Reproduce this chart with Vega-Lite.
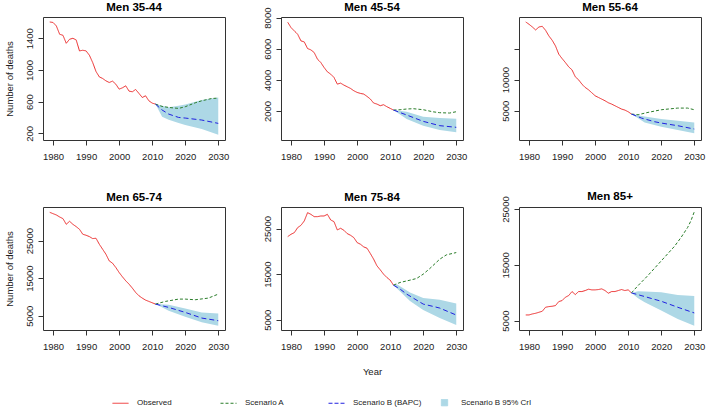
{
  "$schema": "https://vega.github.io/schema/vega-lite/v6.json",
  "padding": {"left": 3, "top": 1, "right": 2, "bottom": 1},
  "background": "white",
  "columns": 3,
  "spacing": {"row": 67, "column": 56},
  "bounds": "flush",
  "datasets": {
    "lines": [
      {"p":"Men 35-44","s":"Observed","x":1979,"y":1606},{"p":"Men 35-44","s":"Observed","x":1980,"y":1600},{"p":"Men 35-44","s":"Observed","x":1981,"y":1556},{"p":"Men 35-44","s":"Observed","x":1982,"y":1451},{"p":"Men 35-44","s":"Observed","x":1983,"y":1438},{"p":"Men 35-44","s":"Observed","x":1984,"y":1337},{"p":"Men 35-44","s":"Observed","x":1985,"y":1388},{"p":"Men 35-44","s":"Observed","x":1986,"y":1400},{"p":"Men 35-44","s":"Observed","x":1987,"y":1380},{"p":"Men 35-44","s":"Observed","x":1988,"y":1241},{"p":"Men 35-44","s":"Observed","x":1989,"y":1249},{"p":"Men 35-44","s":"Observed","x":1990,"y":1241},{"p":"Men 35-44","s":"Observed","x":1991,"y":1186},{"p":"Men 35-44","s":"Observed","x":1992,"y":1094},{"p":"Men 35-44","s":"Observed","x":1993,"y":981},{"p":"Men 35-44","s":"Observed","x":1994,"y":913},{"p":"Men 35-44","s":"Observed","x":1995,"y":893},{"p":"Men 35-44","s":"Observed","x":1996,"y":863},{"p":"Men 35-44","s":"Observed","x":1997,"y":842},{"p":"Men 35-44","s":"Observed","x":1998,"y":859},{"p":"Men 35-44","s":"Observed","x":1999,"y":821},{"p":"Men 35-44","s":"Observed","x":2000,"y":758},{"p":"Men 35-44","s":"Observed","x":2001,"y":775},{"p":"Men 35-44","s":"Observed","x":2002,"y":800},{"p":"Men 35-44","s":"Observed","x":2003,"y":733},{"p":"Men 35-44","s":"Observed","x":2004,"y":725},{"p":"Men 35-44","s":"Observed","x":2005,"y":754},{"p":"Men 35-44","s":"Observed","x":2006,"y":704},{"p":"Men 35-44","s":"Observed","x":2007,"y":653},{"p":"Men 35-44","s":"Observed","x":2008,"y":674},{"p":"Men 35-44","s":"Observed","x":2009,"y":611},{"p":"Men 35-44","s":"Observed","x":2010,"y":582},{"p":"Men 35-44","s":"Observed","x":2011,"y":569},
      {"p":"Men 35-44","s":"Scenario A","x":2011,"y":569},{"p":"Men 35-44","s":"Scenario A","x":2013,"y":540},{"p":"Men 35-44","s":"Scenario A","x":2015,"y":527},{"p":"Men 35-44","s":"Scenario A","x":2018,"y":515},{"p":"Men 35-44","s":"Scenario A","x":2020,"y":536},{"p":"Men 35-44","s":"Scenario A","x":2023,"y":585},{"p":"Men 35-44","s":"Scenario A","x":2025,"y":611},{"p":"Men 35-44","s":"Scenario A","x":2028,"y":640},{"p":"Men 35-44","s":"Scenario A","x":2030,"y":645},
      {"p":"Men 35-44","s":"Scenario B (BAPC)","x":2011,"y":569},{"p":"Men 35-44","s":"Scenario B (BAPC)","x":2013,"y":495},{"p":"Men 35-44","s":"Scenario B (BAPC)","x":2015,"y":443},{"p":"Men 35-44","s":"Scenario B (BAPC)","x":2018,"y":401},{"p":"Men 35-44","s":"Scenario B (BAPC)","x":2020,"y":393},{"p":"Men 35-44","s":"Scenario B (BAPC)","x":2025,"y":368},{"p":"Men 35-44","s":"Scenario B (BAPC)","x":2030,"y":326},

      {"p":"Men 45-54","s":"Observed","x":1979,"y":7700},{"p":"Men 45-54","s":"Observed","x":1980,"y":7359},{"p":"Men 45-54","s":"Observed","x":1981,"y":7145},{"p":"Men 45-54","s":"Observed","x":1982,"y":6932},{"p":"Men 45-54","s":"Observed","x":1983,"y":6505},{"p":"Men 45-54","s":"Observed","x":1984,"y":6441},{"p":"Men 45-54","s":"Observed","x":1985,"y":6014},{"p":"Men 45-54","s":"Observed","x":1986,"y":5928},{"p":"Men 45-54","s":"Observed","x":1987,"y":5758},{"p":"Men 45-54","s":"Observed","x":1988,"y":5331},{"p":"Men 45-54","s":"Observed","x":1989,"y":5117},{"p":"Men 45-54","s":"Observed","x":1990,"y":4797},{"p":"Men 45-54","s":"Observed","x":1991,"y":4519},{"p":"Men 45-54","s":"Observed","x":1992,"y":4370},{"p":"Men 45-54","s":"Observed","x":1993,"y":4156},{"p":"Men 45-54","s":"Observed","x":1994,"y":3729},{"p":"Men 45-54","s":"Observed","x":1995,"y":3793},{"p":"Men 45-54","s":"Observed","x":1996,"y":3665},{"p":"Men 45-54","s":"Observed","x":1997,"y":3559},{"p":"Men 45-54","s":"Observed","x":1998,"y":3452},{"p":"Men 45-54","s":"Observed","x":1999,"y":3302},{"p":"Men 45-54","s":"Observed","x":2000,"y":3196},{"p":"Men 45-54","s":"Observed","x":2001,"y":3132},{"p":"Men 45-54","s":"Observed","x":2002,"y":3089},{"p":"Men 45-54","s":"Observed","x":2003,"y":2939},{"p":"Men 45-54","s":"Observed","x":2004,"y":2769},{"p":"Men 45-54","s":"Observed","x":2005,"y":2512},{"p":"Men 45-54","s":"Observed","x":2006,"y":2448},{"p":"Men 45-54","s":"Observed","x":2007,"y":2342},{"p":"Men 45-54","s":"Observed","x":2008,"y":2406},{"p":"Men 45-54","s":"Observed","x":2009,"y":2278},{"p":"Men 45-54","s":"Observed","x":2010,"y":2171},{"p":"Men 45-54","s":"Observed","x":2011,"y":2064},
      {"p":"Men 45-54","s":"Scenario A","x":2011,"y":2064},{"p":"Men 45-54","s":"Scenario A","x":2013,"y":2085},{"p":"Men 45-54","s":"Scenario A","x":2015,"y":2130},{"p":"Men 45-54","s":"Scenario A","x":2017,"y":2150},{"p":"Men 45-54","s":"Scenario A","x":2020,"y":2085},{"p":"Men 45-54","s":"Scenario A","x":2023,"y":1950},{"p":"Men 45-54","s":"Scenario A","x":2025,"y":1893},{"p":"Men 45-54","s":"Scenario A","x":2028,"y":1872},{"p":"Men 45-54","s":"Scenario A","x":2030,"y":1957},
      {"p":"Men 45-54","s":"Scenario B (BAPC)","x":2011,"y":2064},{"p":"Men 45-54","s":"Scenario B (BAPC)","x":2015,"y":1744},{"p":"Men 45-54","s":"Scenario B (BAPC)","x":2020,"y":1338},{"p":"Men 45-54","s":"Scenario B (BAPC)","x":2025,"y":1061},{"p":"Men 45-54","s":"Scenario B (BAPC)","x":2030,"y":954},

      {"p":"Men 55-64","s":"Observed","x":1979,"y":19280},{"p":"Men 55-64","s":"Observed","x":1980,"y":18905},{"p":"Men 55-64","s":"Observed","x":1981,"y":18477},{"p":"Men 55-64","s":"Observed","x":1982,"y":17996},{"p":"Men 55-64","s":"Observed","x":1983,"y":18477},{"p":"Men 55-64","s":"Observed","x":1984,"y":18584},{"p":"Men 55-64","s":"Observed","x":1985,"y":17942},{"p":"Men 55-64","s":"Observed","x":1986,"y":17033},{"p":"Men 55-64","s":"Observed","x":1987,"y":16338},{"p":"Men 55-64","s":"Observed","x":1988,"y":15429},{"p":"Men 55-64","s":"Observed","x":1989,"y":14092},{"p":"Men 55-64","s":"Observed","x":1990,"y":13396},{"p":"Men 55-64","s":"Observed","x":1991,"y":12755},{"p":"Men 55-64","s":"Observed","x":1992,"y":12059},{"p":"Men 55-64","s":"Observed","x":1993,"y":11578},{"p":"Men 55-64","s":"Observed","x":1994,"y":10455},{"p":"Men 55-64","s":"Observed","x":1995,"y":9974},{"p":"Men 55-64","s":"Observed","x":1996,"y":9278},{"p":"Men 55-64","s":"Observed","x":1997,"y":8744},{"p":"Men 55-64","s":"Observed","x":1998,"y":8369},{"p":"Men 55-64","s":"Observed","x":1999,"y":7888},{"p":"Men 55-64","s":"Observed","x":2000,"y":7407},{"p":"Men 55-64","s":"Observed","x":2001,"y":7139},{"p":"Men 55-64","s":"Observed","x":2002,"y":6872},{"p":"Men 55-64","s":"Observed","x":2003,"y":6604},{"p":"Men 55-64","s":"Observed","x":2004,"y":6284},{"p":"Men 55-64","s":"Observed","x":2005,"y":6070},{"p":"Men 55-64","s":"Observed","x":2006,"y":5802},{"p":"Men 55-64","s":"Observed","x":2007,"y":5535},{"p":"Men 55-64","s":"Observed","x":2008,"y":5267},{"p":"Men 55-64","s":"Observed","x":2009,"y":5107},{"p":"Men 55-64","s":"Observed","x":2010,"y":4840},{"p":"Men 55-64","s":"Observed","x":2011,"y":4465},
      {"p":"Men 55-64","s":"Scenario A","x":2011,"y":4465},{"p":"Men 55-64","s":"Scenario A","x":2013,"y":4358},{"p":"Men 55-64","s":"Scenario A","x":2016,"y":4733},{"p":"Men 55-64","s":"Scenario A","x":2020,"y":5160},{"p":"Men 55-64","s":"Scenario A","x":2025,"y":5428},{"p":"Men 55-64","s":"Scenario A","x":2028,"y":5428},{"p":"Men 55-64","s":"Scenario A","x":2030,"y":5160},
      {"p":"Men 55-64","s":"Scenario B (BAPC)","x":2011,"y":4465},{"p":"Men 55-64","s":"Scenario B (BAPC)","x":2014,"y":3823},{"p":"Men 55-64","s":"Scenario B (BAPC)","x":2018,"y":3235},{"p":"Men 55-64","s":"Scenario B (BAPC)","x":2020,"y":3021},{"p":"Men 55-64","s":"Scenario B (BAPC)","x":2025,"y":2593},{"p":"Men 55-64","s":"Scenario B (BAPC)","x":2030,"y":2059},

      {"p":"Men 65-74","s":"Observed","x":1979,"y":32524},{"p":"Men 65-74","s":"Observed","x":1980,"y":32170},{"p":"Men 65-74","s":"Observed","x":1981,"y":31816},{"p":"Men 65-74","s":"Observed","x":1982,"y":31285},{"p":"Men 65-74","s":"Observed","x":1983,"y":30842},{"p":"Men 65-74","s":"Observed","x":1984,"y":29338},{"p":"Men 65-74","s":"Observed","x":1985,"y":30134},{"p":"Men 65-74","s":"Observed","x":1986,"y":29338},{"p":"Men 65-74","s":"Observed","x":1987,"y":28718},{"p":"Men 65-74","s":"Observed","x":1988,"y":28010},{"p":"Men 65-74","s":"Observed","x":1989,"y":26683},{"p":"Men 65-74","s":"Observed","x":1990,"y":26417},{"p":"Men 65-74","s":"Observed","x":1991,"y":26063},{"p":"Men 65-74","s":"Observed","x":1992,"y":25532},{"p":"Men 65-74","s":"Observed","x":1993,"y":25621},{"p":"Men 65-74","s":"Observed","x":1994,"y":24028},{"p":"Men 65-74","s":"Observed","x":1995,"y":22700},{"p":"Men 65-74","s":"Observed","x":1996,"y":21373},{"p":"Men 65-74","s":"Observed","x":1997,"y":19603},{"p":"Men 65-74","s":"Observed","x":1998,"y":18983},{"p":"Men 65-74","s":"Observed","x":1999,"y":17833},{"p":"Men 65-74","s":"Observed","x":2000,"y":16505},{"p":"Men 65-74","s":"Observed","x":2001,"y":15355},{"p":"Men 65-74","s":"Observed","x":2002,"y":14293},{"p":"Men 65-74","s":"Observed","x":2003,"y":13408},{"p":"Men 65-74","s":"Observed","x":2004,"y":12346},{"p":"Men 65-74","s":"Observed","x":2005,"y":11195},{"p":"Men 65-74","s":"Observed","x":2006,"y":10310},{"p":"Men 65-74","s":"Observed","x":2007,"y":9691},{"p":"Men 65-74","s":"Observed","x":2008,"y":9160},{"p":"Men 65-74","s":"Observed","x":2009,"y":8806},{"p":"Men 65-74","s":"Observed","x":2010,"y":8452},{"p":"Men 65-74","s":"Observed","x":2011,"y":8098},
      {"p":"Men 65-74","s":"Scenario A","x":2011,"y":8098},{"p":"Men 65-74","s":"Scenario A","x":2014,"y":8806},{"p":"Men 65-74","s":"Scenario A","x":2018,"y":9425},{"p":"Men 65-74","s":"Scenario A","x":2020,"y":9425},{"p":"Men 65-74","s":"Scenario A","x":2023,"y":9248},{"p":"Men 65-74","s":"Scenario A","x":2027,"y":9691},{"p":"Men 65-74","s":"Scenario A","x":2030,"y":10753},
      {"p":"Men 65-74","s":"Scenario B (BAPC)","x":2011,"y":8098},{"p":"Men 65-74","s":"Scenario B (BAPC)","x":2015,"y":7213},{"p":"Men 65-74","s":"Scenario B (BAPC)","x":2020,"y":5885},{"p":"Men 65-74","s":"Scenario B (BAPC)","x":2025,"y":4381},{"p":"Men 65-74","s":"Scenario B (BAPC)","x":2030,"y":3673},

      {"p":"Men 75-84","s":"Observed","x":1979,"y":23250},{"p":"Men 75-84","s":"Observed","x":1980,"y":23761},{"p":"Men 75-84","s":"Observed","x":1981,"y":24126},{"p":"Men 75-84","s":"Observed","x":1982,"y":25221},{"p":"Men 75-84","s":"Observed","x":1983,"y":25732},{"p":"Men 75-84","s":"Observed","x":1984,"y":26681},{"p":"Men 75-84","s":"Observed","x":1985,"y":28506},{"p":"Men 75-84","s":"Observed","x":1986,"y":28141},{"p":"Men 75-84","s":"Observed","x":1987,"y":27630},{"p":"Men 75-84","s":"Observed","x":1988,"y":27630},{"p":"Men 75-84","s":"Observed","x":1989,"y":27776},{"p":"Men 75-84","s":"Observed","x":1990,"y":27776},{"p":"Men 75-84","s":"Observed","x":1991,"y":28141},{"p":"Men 75-84","s":"Observed","x":1992,"y":26900},{"p":"Men 75-84","s":"Observed","x":1993,"y":26535},{"p":"Men 75-84","s":"Observed","x":1994,"y":24710},{"p":"Men 75-84","s":"Observed","x":1995,"y":25075},{"p":"Men 75-84","s":"Observed","x":1996,"y":24637},{"p":"Men 75-84","s":"Observed","x":1997,"y":23907},{"p":"Men 75-84","s":"Observed","x":1998,"y":23542},{"p":"Men 75-84","s":"Observed","x":1999,"y":23031},{"p":"Men 75-84","s":"Observed","x":2000,"y":21936},{"p":"Men 75-84","s":"Observed","x":2001,"y":21571},{"p":"Men 75-84","s":"Observed","x":2002,"y":20987},{"p":"Men 75-84","s":"Observed","x":2003,"y":20695},{"p":"Men 75-84","s":"Observed","x":2004,"y":19527},{"p":"Men 75-84","s":"Observed","x":2005,"y":18286},{"p":"Men 75-84","s":"Observed","x":2006,"y":16826},{"p":"Men 75-84","s":"Observed","x":2007,"y":15950},{"p":"Men 75-84","s":"Observed","x":2008,"y":15001},{"p":"Men 75-84","s":"Observed","x":2009,"y":14271},{"p":"Men 75-84","s":"Observed","x":2010,"y":13687},{"p":"Men 75-84","s":"Observed","x":2011,"y":12592},
      {"p":"Men 75-84","s":"Scenario A","x":2011,"y":12592},{"p":"Men 75-84","s":"Scenario A","x":2013,"y":13176},{"p":"Men 75-84","s":"Scenario A","x":2016,"y":13687},{"p":"Men 75-84","s":"Scenario A","x":2018,"y":14052},{"p":"Men 75-84","s":"Scenario A","x":2020,"y":15001},{"p":"Men 75-84","s":"Scenario A","x":2022,"y":16242},{"p":"Men 75-84","s":"Scenario A","x":2025,"y":18286},{"p":"Men 75-84","s":"Scenario A","x":2027,"y":19235},{"p":"Men 75-84","s":"Scenario A","x":2030,"y":19746},
      {"p":"Men 75-84","s":"Scenario B (BAPC)","x":2011,"y":12592},{"p":"Men 75-84","s":"Scenario B (BAPC)","x":2013,"y":11716},{"p":"Men 75-84","s":"Scenario B (BAPC)","x":2015,"y":10621},{"p":"Men 75-84","s":"Scenario B (BAPC)","x":2017,"y":9745},{"p":"Men 75-84","s":"Scenario B (BAPC)","x":2020,"y":8431},{"p":"Men 75-84","s":"Scenario B (BAPC)","x":2023,"y":7920},{"p":"Men 75-84","s":"Scenario B (BAPC)","x":2025,"y":7555},{"p":"Men 75-84","s":"Scenario B (BAPC)","x":2030,"y":6022},

      {"p":"Men 85+","s":"Observed","x":1979,"y":6018},{"p":"Men 85+","s":"Observed","x":1980,"y":6018},{"p":"Men 85+","s":"Observed","x":1981,"y":6198},{"p":"Men 85+","s":"Observed","x":1982,"y":6317},{"p":"Men 85+","s":"Observed","x":1983,"y":6497},{"p":"Men 85+","s":"Observed","x":1984,"y":6677},{"p":"Men 85+","s":"Observed","x":1985,"y":7395},{"p":"Men 85+","s":"Observed","x":1986,"y":7515},{"p":"Men 85+","s":"Observed","x":1987,"y":7575},{"p":"Men 85+","s":"Observed","x":1988,"y":7695},{"p":"Men 85+","s":"Observed","x":1989,"y":8413},{"p":"Men 85+","s":"Observed","x":1990,"y":8593},{"p":"Men 85+","s":"Observed","x":1991,"y":9192},{"p":"Men 85+","s":"Observed","x":1992,"y":9491},{"p":"Men 85+","s":"Observed","x":1993,"y":10210},{"p":"Men 85+","s":"Observed","x":1994,"y":9671},{"p":"Men 85+","s":"Observed","x":1995,"y":10210},{"p":"Men 85+","s":"Observed","x":1996,"y":10210},{"p":"Men 85+","s":"Observed","x":1997,"y":10389},{"p":"Men 85+","s":"Observed","x":1998,"y":10629},{"p":"Men 85+","s":"Observed","x":1999,"y":10509},{"p":"Men 85+","s":"Observed","x":2000,"y":10509},{"p":"Men 85+","s":"Observed","x":2001,"y":10569},{"p":"Men 85+","s":"Observed","x":2002,"y":10689},{"p":"Men 85+","s":"Observed","x":2003,"y":10389},{"p":"Men 85+","s":"Observed","x":2004,"y":9910},{"p":"Men 85+","s":"Observed","x":2005,"y":10210},{"p":"Men 85+","s":"Observed","x":2006,"y":10210},{"p":"Men 85+","s":"Observed","x":2007,"y":10389},{"p":"Men 85+","s":"Observed","x":2008,"y":10569},{"p":"Men 85+","s":"Observed","x":2009,"y":10389},{"p":"Men 85+","s":"Observed","x":2010,"y":10509},{"p":"Men 85+","s":"Observed","x":2011,"y":9970},
      {"p":"Men 85+","s":"Scenario A","x":2011,"y":9970},{"p":"Men 85+","s":"Scenario A","x":2013,"y":11287},{"p":"Men 85+","s":"Scenario A","x":2015,"y":12485},{"p":"Men 85+","s":"Scenario A","x":2016,"y":13100},{"p":"Men 85+","s":"Scenario A","x":2018,"y":14400},{"p":"Men 85+","s":"Scenario A","x":2020,"y":15700},{"p":"Men 85+","s":"Scenario A","x":2022,"y":17000},{"p":"Men 85+","s":"Scenario A","x":2024,"y":18300},{"p":"Men 85+","s":"Scenario A","x":2026,"y":19900},{"p":"Men 85+","s":"Scenario A","x":2028,"y":21700},{"p":"Men 85+","s":"Scenario A","x":2029,"y":22900},{"p":"Men 85+","s":"Scenario A","x":2030,"y":24500},
      {"p":"Men 85+","s":"Scenario B (BAPC)","x":2011,"y":9970},{"p":"Men 85+","s":"Scenario B (BAPC)","x":2015,"y":9311},{"p":"Men 85+","s":"Scenario B (BAPC)","x":2020,"y":8473},{"p":"Men 85+","s":"Scenario B (BAPC)","x":2025,"y":7395},{"p":"Men 85+","s":"Scenario B (BAPC)","x":2030,"y":6377}
    ],
    "band": [
      {"p":"Men 35-44","x":2011,"lo":569,"hi":569},{"p":"Men 35-44","x":2013,"lo":410,"hi":548},{"p":"Men 35-44","x":2015,"lo":372,"hi":530},{"p":"Men 35-44","x":2018,"lo":330,"hi":548},{"p":"Men 35-44","x":2020,"lo":305,"hi":565},{"p":"Men 35-44","x":2025,"lo":255,"hi":620},{"p":"Men 35-44","x":2030,"lo":183,"hi":653},
      {"p":"Men 45-54","x":2011,"lo":2064,"hi":2064},{"p":"Men 45-54","x":2015,"lo":1488,"hi":1957},{"p":"Men 45-54","x":2020,"lo":1061,"hi":1637},{"p":"Men 45-54","x":2025,"lo":783,"hi":1552},{"p":"Men 45-54","x":2030,"lo":634,"hi":1500},
      {"p":"Men 55-64","x":2011,"lo":4465,"hi":4465},{"p":"Men 55-64","x":2015,"lo":3128,"hi":4091},{"p":"Men 55-64","x":2020,"lo":2433,"hi":3663},{"p":"Men 55-64","x":2025,"lo":1898,"hi":3396},{"p":"Men 55-64","x":2030,"lo":1363,"hi":3128},
      {"p":"Men 65-74","x":2011,"lo":8098,"hi":8098},{"p":"Men 65-74","x":2015,"lo":6328,"hi":7900},{"p":"Men 65-74","x":2020,"lo":4735,"hi":6947},{"p":"Men 65-74","x":2025,"lo":3230,"hi":5885},{"p":"Men 65-74","x":2030,"lo":2345,"hi":5620},
      {"p":"Men 75-84","x":2011,"lo":12592,"hi":12592},{"p":"Men 75-84","x":2012,"lo":11900,"hi":12800},{"p":"Men 75-84","x":2016,"lo":9100,"hi":10986},{"p":"Men 75-84","x":2020,"lo":7117,"hi":9745},{"p":"Men 75-84","x":2025,"lo":5365,"hi":9380},{"p":"Men 75-84","x":2030,"lo":3832,"hi":8577},
      {"p":"Men 85+","x":2011,"lo":9970,"hi":9970},{"p":"Men 85+","x":2013,"lo":9000,"hi":10269},{"p":"Men 85+","x":2015,"lo":8293,"hi":10200},{"p":"Men 85+","x":2020,"lo":6796,"hi":10090},{"p":"Men 85+","x":2025,"lo":5299,"hi":9611},{"p":"Men 85+","x":2030,"lo":4102,"hi":9431}
    ]
  },
  "concat": [
    {"title": {"text": "Men 35-44"}, "width": 182, "height": 123,
     "layer": [
      {"data": {"name": "band"}, "transform": [{"filter": "datum.p == 'Men 35-44'"}], "mark": {"type": "area", "opacity": 1},
       "encoding": {"x": {"field": "x", "type": "quantitative", "scale": {"domain": [1976.96, 2032.04], "nice": false, "zero": false}, "axis": {"values": [1980,1990,2000,2010,2020,2030], "title": null, "format": "d", "labelAngle": 0, "labelOverlap": false, "labelPadding": 6}},
        "y": {"field": "lo", "type": "quantitative", "scale": {"domain": [116, 1669], "nice": false, "zero": false}, "axis": {"title": "Number of deaths", "values": [200,400,600,800,1000,1200,1400,1600], "format": "d", "labelOverlap": false, "labelExpr": "datum.value % 400 == 200 ? datum.label : ''"}},
        "y2": {"field": "hi"},
        "color": {"datum": "Scenario B 95% CrI", "type": "nominal"}}},
      {"data": {"name": "lines"}, "transform": [{"filter": "datum.p == 'Men 35-44'"}], "mark": {"type": "line"},
       "encoding": {"x": {"field": "x", "type": "quantitative", "axis": {"values": [1980,1990,2000,2010,2020,2030], "title": null, "format": "d", "labelAngle": 0, "labelOverlap": false, "labelPadding": 6}}, "y": {"field": "y", "type": "quantitative"},
        "color": {"field": "s", "type": "nominal", "scale": {"domain": ["Observed", "Scenario A", "Scenario B (BAPC)", "Scenario B 95% CrI"], "range": ["#ec2a2a", "#2a7d2a", "#2020e0", "#add8e6"]},
          "legend": {"orient": "none", "legendX": 69, "legendY": 377, "direction": "horizontal", "columns": 4, "gridAlign": "all", "columnPadding": 10, "title": null, "labelFontSize": 8, "labelFont": "Liberation Sans", "labelColor": "#222", "labelOffset": 8, "symbolSize": 256, "labelLimit": 200,
            "encode": {"symbols": {"update": {
              "shape": {"signal": "datum.value === 'Scenario B 95% CrI' ? 'square' : 'stroke'"},
              "fill": {"signal": "datum.value === 'Scenario B 95% CrI' ? '#add8e6' : 'transparent'"},
              "stroke": {"signal": "datum.value === 'Observed' ? '#ec2a2a' : datum.value === 'Scenario A' ? '#2a7d2a' : datum.value === 'Scenario B (BAPC)' ? '#2020e0' : 'transparent'"},
              "strokeDash": {"signal": "datum.value === 'Scenario A' ? [3,2] : datum.value === 'Scenario B (BAPC)' ? [4,2] : [1,0]"},
              "strokeWidth": {"value": 1},
              "size": {"signal": "datum.value === 'Scenario B 95% CrI' ? 40 : 256"},
              "opacity": {"value": 1}
            }}}}},
        "strokeDash": {"field": "s", "type": "nominal", "scale": {"domain": ["Observed", "Scenario A", "Scenario B (BAPC)"], "range": [[1,0],[3,2],[5,3]]}, "legend": null},
        "strokeWidth": {"field": "s", "type": "nominal", "scale": {"domain": ["Observed", "Scenario A", "Scenario B (BAPC)"], "range": [1, 1, 1.6]}, "legend": null}}}
     ]},
    {"title": {"text": "Men 45-54", "offset": -6}, "width": 182, "height": 123,
     "layer": [
      {"data": {"name": "band"}, "transform": [{"filter": "datum.p == 'Men 45-54'"}], "mark": {"type": "area", "opacity": 1},
       "encoding": {"x": {"field": "x", "type": "quantitative", "scale": {"domain": [1976.96, 2032.04], "nice": false, "zero": false}, "axis": {"values": [1980,1990,2000,2010,2020,2030], "title": null, "format": "d", "labelAngle": 0, "labelOverlap": false, "labelPadding": 6}},
        "y": {"field": "lo", "type": "quantitative", "scale": {"domain": [140, 8040], "nice": false, "zero": false}, "axis": {"title": null, "values": [2000,4000,6000,8000], "format": "d", "labelOverlap": false}},
        "y2": {"field": "hi"},
        "color": {"datum": "Scenario B 95% CrI", "type": "nominal"}}},
      {"data": {"name": "lines"}, "transform": [{"filter": "datum.p == 'Men 45-54'"}], "mark": {"type": "line"},
       "encoding": {"x": {"field": "x", "type": "quantitative", "axis": {"values": [1980,1990,2000,2010,2020,2030], "title": null, "format": "d", "labelAngle": 0, "labelOverlap": false, "labelPadding": 6}}, "y": {"field": "y", "type": "quantitative"},
        "color": {"field": "s", "type": "nominal"},
        "strokeDash": {"field": "s", "type": "nominal", "legend": null},
        "strokeWidth": {"field": "s", "type": "nominal", "legend": null}}}
     ]},
    {"title": {"text": "Men 55-64"}, "width": 182, "height": 123,
     "layer": [
      {"data": {"name": "band"}, "transform": [{"filter": "datum.p == 'Men 55-64'"}], "mark": {"type": "area", "opacity": 1},
       "encoding": {"x": {"field": "x", "type": "quantitative", "scale": {"domain": [1976.96, 2032.04], "nice": false, "zero": false}, "axis": {"values": [1980,1990,2000,2010,2020,2030], "title": null, "format": "d", "labelAngle": 0, "labelOverlap": false, "labelPadding": 6}},
        "y": {"field": "lo", "type": "quantitative", "scale": {"domain": [294, 20080], "nice": false, "zero": false}, "axis": {"title": null, "values": [5000,10000,15000], "format": "d", "labelOverlap": false, "labelExpr": "datum.value < 12000 ? datum.label : ''"}},
        "y2": {"field": "hi"},
        "color": {"datum": "Scenario B 95% CrI", "type": "nominal"}}},
      {"data": {"name": "lines"}, "transform": [{"filter": "datum.p == 'Men 55-64'"}], "mark": {"type": "line"},
       "encoding": {"x": {"field": "x", "type": "quantitative", "axis": {"values": [1980,1990,2000,2010,2020,2030], "title": null, "format": "d", "labelAngle": 0, "labelOverlap": false, "labelPadding": 6}}, "y": {"field": "y", "type": "quantitative"},
        "color": {"field": "s", "type": "nominal"},
        "strokeDash": {"field": "s", "type": "nominal", "legend": null},
        "strokeWidth": {"field": "s", "type": "nominal", "legend": null}}}
     ]},
    {"title": {"text": "Men 65-74"}, "width": 182, "height": 123,
     "layer": [
      {"data": {"name": "band"}, "transform": [{"filter": "datum.p == 'Men 65-74'"}], "mark": {"type": "area", "opacity": 1},
       "encoding": {"x": {"field": "x", "type": "quantitative", "scale": {"domain": [1976.96, 2032.04], "nice": false, "zero": false}, "axis": {"values": [1980,1990,2000,2010,2020,2030], "title": null, "format": "d", "labelAngle": 0, "labelOverlap": false, "labelPadding": 6}},
        "y": {"field": "lo", "type": "quantitative", "scale": {"domain": [1200, 33940], "nice": false, "zero": false}, "axis": {"title": "Number of deaths", "values": [5000,10000,15000,20000,25000,30000], "format": "d", "labelOverlap": false, "labelExpr": "datum.value % 10000 == 5000 ? datum.label : ''"}},
        "y2": {"field": "hi"},
        "color": {"datum": "Scenario B 95% CrI", "type": "nominal"}}},
      {"data": {"name": "lines"}, "transform": [{"filter": "datum.p == 'Men 65-74'"}], "mark": {"type": "line"},
       "encoding": {"x": {"field": "x", "type": "quantitative", "axis": {"values": [1980,1990,2000,2010,2020,2030], "title": null, "format": "d", "labelAngle": 0, "labelOverlap": false, "labelPadding": 6}}, "y": {"field": "y", "type": "quantitative"},
        "color": {"field": "s", "type": "nominal"},
        "strokeDash": {"field": "s", "type": "nominal", "legend": null},
        "strokeWidth": {"field": "s", "type": "nominal", "legend": null}}}
     ]},
    {"title": {"text": "Men 75-84"}, "width": 182, "height": 123,
     "layer": [
      {"data": {"name": "band"}, "transform": [{"filter": "datum.p == 'Men 75-84'"}], "mark": {"type": "area", "opacity": 1},
       "encoding": {"x": {"field": "x", "type": "quantitative", "scale": {"domain": [1976.96, 2032.04], "nice": false, "zero": false}, "axis": {"values": [1980,1990,2000,2010,2020,2030], "title": "Year", "format": "d", "labelAngle": 0, "labelOverlap": false, "labelPadding": 6, "titlePadding": 16}},
        "y": {"field": "lo", "type": "quantitative", "scale": {"domain": [2740, 29750], "nice": false, "zero": false}, "axis": {"title": null, "values": [5000,10000,15000,20000,25000], "format": "d", "labelOverlap": false, "labelExpr": "datum.value % 10000 == 5000 ? datum.label : ''"}},
        "y2": {"field": "hi"},
        "color": {"datum": "Scenario B 95% CrI", "type": "nominal"}}},
      {"data": {"name": "lines"}, "transform": [{"filter": "datum.p == 'Men 75-84'"}], "mark": {"type": "line"},
       "encoding": {"x": {"field": "x", "type": "quantitative", "axis": {"values": [1980,1990,2000,2010,2020,2030], "title": "Year", "format": "d", "labelAngle": 0, "labelOverlap": false, "labelPadding": 6, "titlePadding": 16}}, "y": {"field": "y", "type": "quantitative"},
        "color": {"field": "s", "type": "nominal"},
        "strokeDash": {"field": "s", "type": "nominal", "legend": null},
        "strokeWidth": {"field": "s", "type": "nominal", "legend": null}}}
     ]},
    {"title": {"text": "Men 85+", "offset": -7}, "width": 182, "height": 123,
     "layer": [
      {"data": {"name": "band"}, "transform": [{"filter": "datum.p == 'Men 85+'"}], "mark": {"type": "area", "opacity": 1},
       "encoding": {"x": {"field": "x", "type": "quantitative", "scale": {"domain": [1976.96, 2032.04], "nice": false, "zero": false}, "axis": {"values": [1980,1990,2000,2010,2020,2030], "title": null, "format": "d", "labelAngle": 0, "labelOverlap": false, "labelPadding": 6}},
        "y": {"field": "lo", "type": "quantitative", "scale": {"domain": [3320, 25360], "nice": false, "zero": false}, "axis": {"title": null, "values": [5000,10000,15000,20000,25000], "format": "d", "labelOverlap": false, "labelExpr": "datum.value % 10000 == 5000 ? datum.label : ''"}},
        "y2": {"field": "hi"},
        "color": {"datum": "Scenario B 95% CrI", "type": "nominal"}}},
      {"data": {"name": "lines"}, "transform": [{"filter": "datum.p == 'Men 85+'"}], "mark": {"type": "line"},
       "encoding": {"x": {"field": "x", "type": "quantitative", "axis": {"values": [1980,1990,2000,2010,2020,2030], "title": null, "format": "d", "labelAngle": 0, "labelOverlap": false, "labelPadding": 6}}, "y": {"field": "y", "type": "quantitative"},
        "color": {"field": "s", "type": "nominal"},
        "strokeDash": {"field": "s", "type": "nominal", "legend": null},
        "strokeWidth": {"field": "s", "type": "nominal", "legend": null}}}
     ]}
  ],
  "config": {
    "font": "Liberation Sans",
    "view": {"stroke": "#333333", "strokeWidth": 1},
    "axis": {"domain": false, "grid": false, "tickColor": "#333333", "tickSize": 5, "labelFont": "Liberation Sans", "labelFontSize": 9.5, "labelColor": "#222222", "titleFont": "Liberation Sans", "titleFontSize": 9.5, "titleFontWeight": "normal", "titleColor": "#222222", "labelOverlap": false, "labelFlush": false},
    "axisX": {"labelPadding": 6, "titlePadding": 16, "labelOverlap": false},
    "axisY": {"labelAngle": 270, "labelAlign": "center", "labelBaseline": "bottom", "labelPadding": 4, "titlePadding": 10},
    "title": {"font": "Liberation Sans", "fontSize": 11.5, "fontWeight": "bold", "offset": 4, "color": "#000000"}
  }
}
